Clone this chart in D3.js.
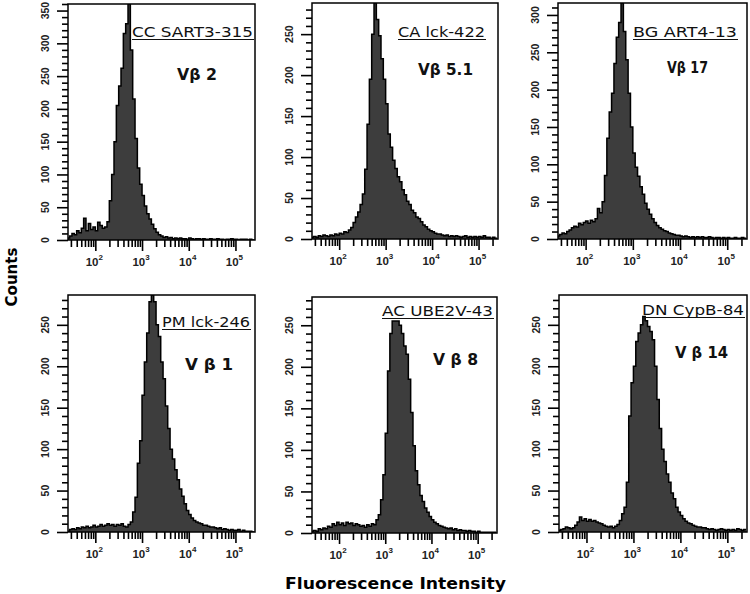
<!DOCTYPE html>
<html><head><meta charset="utf-8">
<script src="https://cdn.jsdelivr.net/npm/d3@7"></script>
<style>body{margin:0;background:#fff}</style>
</head><body>
<svg id="c" width="750" height="594" xmlns="http://www.w3.org/2000/svg"></svg>
<script>
// ---- DATA ----
// histogram bin edges (log10 of fluorescence intensity)
const binEdgesLog = [1.40,1.45,1.50,1.55,1.60,1.65,1.70,1.75,1.80,1.85,1.90,1.95,2.00,2.05,2.10,2.15,2.20,2.25,2.30,2.35,
  2.40,2.45,2.50,2.55,2.60,2.65,2.70,2.75,2.80,2.85,2.90,2.95,3.00,3.05,3.10,3.15,3.20,3.25,3.30,3.35,
  3.40,3.45,3.50,3.55,3.60,3.65,3.70,3.75,3.80,3.85,3.90,3.95,4.00,4.05,4.10,4.15,4.20,4.25,4.30,4.35,
  4.40,4.45,4.50,4.55,4.60,4.65,4.70,4.75,4.80,4.85,4.90,4.95,5.00,5.05,5.10,5.15,5.20,5.25,5.30,5.35,5.40];
const countsSART3 = [3,6,10,8,14,11,18,33,14,25, 16,20,14,27,22,18,20,28,60,100, 150,205,235,262,315,330,360,290,215,155,
  110,85,68,52,40,32,24,17,12,8, 6,4,5,3,4,2,3,2,3,2, 2,1,3,2,1,2,2,1,2,1, 1,2,1,1,2,1,1,0,1,1, 2,1,1,0,1,1,1,0,1,0];
const countsLck422 = [2,3,2,4,3,5,4,3,5,4, 6,5,7,6,9,8,11,14,20,27, 33,42,55,85,140,195,250,288,268,248,
  220,195,165,128,112,96,86,76,70,60, 54,46,42,35,32,27,25,21,17,15, 12,10,9,7,6,6,5,4,5,3, 4,3,4,3,2,3,4,2,3,2, 3,2,3,2,4,2,2,1,2,1];
const countsART4 = [4,6,8,7,10,12,15,17,16,21, 19,22,24,21,25,23,27,41,35,50, 85,135,170,195,235,270,290,316,278,240,
  195,150,115,96,84,70,60,48,40,33, 27,22,18,15,13,11,10,8,7,6, 5,5,4,3,4,3,2,3,2,3, 2,3,2,2,3,2,1,2,2,1, 2,1,2,1,1,2,1,1,2,1];
const countsLck246 = [1,3,4,3,5,4,6,5,7,5, 6,8,6,7,9,7,8,10,8,9, 7,9,8,10,7,6,9,12,24,42, 83,110,165,205,240,278,286,278,250,236,
  205,185,152,125,100,88,75,63,52,43, 34,26,21,17,14,12,11,10,8,8, 7,6,6,5,4,5,3,4,3,2, 3,2,2,3,1,2,1,1,1,0];
const countsUBE2V = [2,3,2,5,4,6,5,8,7,11, 9,13,10,12,9,13,11,12,9,11, 10,8,9,7,10,8,11,10,16,22, 40,70,120,195,240,255,255,255,250,240,
  225,215,185,145,105,75,58,45,38,30, 25,20,16,13,11,9,8,7,6,5, 6,4,5,3,4,3,3,2,3,2, 2,1,2,1,1,1,1,1,1,1];
const countsCypB = [2,3,4,6,5,4,5,8,12,18, 14,16,13,15,13,14,12,11,10,8, 7,6,7,5,7,9,14,22,30,60, 140,180,200,230,240,250,260,255,248,242,
  232,200,160,125,100,85,70,60,47,40, 30,24,20,16,13,11,10,8,7,6, 6,5,5,4,3,4,3,2,3,4, 3,2,3,2,3,2,4,3,2,3];
const panelSeries = [countsSART3, countsLck422, countsART4, countsLck246, countsUBE2V, countsCypB];
const panelNames = ["CC SART3-315","CA lck-422","BG ART4-13","PM lck-246","AC UBE2V-43","DN CypB-84"];
const panelVb = ["Vβ 2","Vβ 5.1","Vβ 17","V β 1","V β 8","V β 14"];
const yDomainMax = [360,288,316,286,284,286];
const yLabelTicks = [[0,50,100,150,200,250,300,350],[0,50,100,150,200,250],[0,50,100,150,200,250,300],
  [0,50,100,150,200,250],[0,50,100,150,200,250],[0,50,100,150,200,250]];
const xDomain = [26, 262144];
const xMajorTicks = [100,1000,10000,100000];
const xMajorLabels = ["2","3","4","5"];
const xMinorTicks = [30,40,50,60,70,80,90,200,300,400,500,600,700,800,900,2000,3000,4000,5000,6000,7000,8000,9000,
  20000,30000,40000,50000,60000,70000,80000,90000,200000];
const yAxisTitle = "Counts";
const xAxisTitle = "Fluorescence Intensity";

// ---- LAYOUT ----
const boxes = [
  {l:68,r:255,t:4,b:240},{l:312,r:498,t:3,b:239},{l:558,r:747,t:3,b:239},
  {l:68,r:255,t:295,b:532},{l:312,r:497,t:297,b:533},{l:559,r:747,t:295,b:532}];
const titlePos = [
  {x:132,y:37,w:121,u:39.5},{x:398,y:37,w:87,u:39.5},{x:633,y:37,w:104,u:39.5},
  {x:162,y:327,w:88,u:329.5},{x:382,y:316,w:111,u:318.5},{x:642,y:315,w:102,u:317.5}];
const vbPos = [
  {x:177,y:80,w:40},{x:418,y:75,w:55},{x:667,y:73,w:41},
  {x:185,y:370,w:48},{x:433,y:365,w:45},{x:675,y:358,w:53}];

const svg = d3.select("#c");
const defs = svg.append("defs");

panelSeries.forEach((counts, p) => {
  const B = boxes[p];
  const x = d3.scaleLog().domain(xDomain).range([B.l, B.r]);
  const y = d3.scaleLinear().domain([0, yDomainMax[p]]).range([B.b, B.t]);
  const g = svg.append("g");
  const cid = "clip" + p;
  defs.append("clipPath").attr("id", cid).append("rect")
    .attr("x", B.l).attr("y", B.t).attr("width", B.r - B.l).attr("height", B.b - B.t);

  const pts = counts.map((c, i) => [Math.pow(10, binEdgesLog[i]), c]);
  pts.push([Math.pow(10, binEdgesLog[counts.length]), counts[counts.length - 1]]);
  const area = d3.area().curve(d3.curveStepAfter)
    .x(d => x(d[0])).y0(y(0)).y1(d => y(d[1]));
  const line = d3.line().curve(d3.curveStepAfter)
    .x(d => x(d[0])).y(d => y(d[1]));
  const hg = g.append("g").attr("clip-path", `url(#${cid})`);
  hg.append("path").attr("d", area(pts)).attr("fill", "#3d3d3d");
  hg.append("path").attr("d", line(pts)).attr("fill", "none").attr("stroke", "#000").attr("stroke-width", 1.5);

  // y axis ticks
  const yMinor = d3.range(0, yDomainMax[p] + 0.1, 10).filter(v => v % 50 !== 0);
  const yAxMinor = d3.axisLeft(y).tickValues(yMinor).tickSize(6).tickFormat("");
  const yAxMajor = d3.axisLeft(y).tickValues(yLabelTicks[p]).tickSize(11).tickFormat("");
  [yAxMinor, yAxMajor].forEach(ax => {
    const a = g.append("g").attr("transform", `translate(${B.l},0)`).call(ax);
    a.select(".domain").remove();
    a.selectAll("line").attr("stroke", "#000").attr("stroke-width", 1.6);
  });
  yLabelTicks[p].forEach(v => {
    g.append("text").attr("transform", `translate(${B.l - 23},${y(v)}) rotate(-90)`)
      .attr("text-anchor", "middle").attr("dominant-baseline", "central")
      .attr("font-family", "Liberation Sans, Arial, sans-serif").attr("font-size", 10.5).attr("font-weight", "bold")
      .attr("fill", "#222").text(v);
  });

  // x axis ticks
  const xAxMinor = d3.axisBottom(x).tickValues(xMinorTicks).tickSize(7).tickFormat("");
  const xAxMajor = d3.axisBottom(x).tickValues(xMajorTicks).tickSize(11).tickFormat("");
  [xAxMinor, xAxMajor].forEach(ax => {
    const a = g.append("g").attr("transform", `translate(0,${B.b})`).call(ax);
    a.select(".domain").remove();
    a.selectAll("line").attr("stroke", "#000").attr("stroke-width", 1.6);
  });
  xMajorTicks.forEach((v, i) => {
    const t = g.append("text").attr("x", x(v) - 1).attr("y", B.b + 26)
      .attr("text-anchor", "middle")
      .attr("font-family", "Liberation Sans, Arial, sans-serif").attr("font-size", 11.5).attr("font-weight", "bold")
      .attr("fill", "#222");
    t.append("tspan").text("10");
    t.append("tspan").attr("dy", -6).attr("font-size", 8).text(xMajorLabels[i]);
  });

  // box
  g.append("rect").attr("x", B.l).attr("y", B.t).attr("width", B.r - B.l).attr("height", B.b - B.t)
    .attr("fill", "none").attr("stroke", "#000").attr("stroke-width", 1.5);

  // titles
  const T = titlePos[p];
  g.append("text").attr("x", T.x).attr("y", T.y)
    .attr("font-family", "DejaVu Sans, Verdana, sans-serif").attr("font-size", 14.5)
    .attr("textLength", T.w).attr("lengthAdjust", "spacingAndGlyphs")
    .attr("fill", "#111").text(panelNames[p]);
  g.append("line").attr("x1", T.x).attr("x2", T.x + T.w + 1).attr("y1", T.u).attr("y2", T.u)
    .attr("stroke", "#111").attr("stroke-width", 1.2);
  const V = vbPos[p];
  g.append("text").attr("x", V.x).attr("y", V.y)
    .attr("font-family", "DejaVu Sans, Verdana, sans-serif").attr("font-size", 16).attr("font-weight", "bold")
    .attr("textLength", V.w).attr("lengthAdjust", "spacingAndGlyphs")
    .attr("fill", "#111").text(panelVb[p]);
});

// axis titles
svg.append("text").attr("transform", "translate(17,277) rotate(-90)")
  .attr("text-anchor", "middle")
  .attr("font-family", "DejaVu Sans, Verdana, sans-serif").attr("font-size", 15).attr("font-weight", "bold")
  .attr("fill", "#000").text(yAxisTitle);
svg.append("text").attr("x", 285).attr("y", 589)
  .attr("font-family", "DejaVu Sans, Verdana, sans-serif").attr("font-size", 16).attr("font-weight", "bold")
  .attr("textLength", 221).attr("lengthAdjust", "spacingAndGlyphs")
  .attr("fill", "#000").text(xAxisTitle);
</script>
</body></html>
